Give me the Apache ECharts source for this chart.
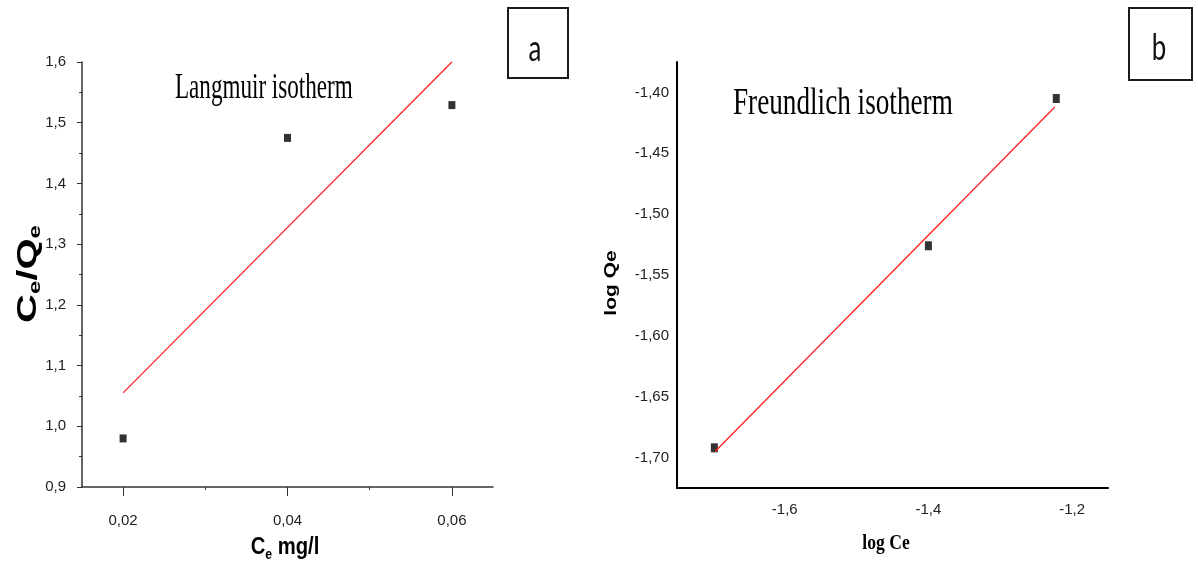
<!DOCTYPE html>
<html>
<head>
<meta charset="utf-8">
<script src="https://cdn.jsdelivr.net/npm/echarts@6/dist/echarts.min.js"></script>
<style>
  html, body { margin: 0; background: #fff; }
  #main { width: 1198px; height: 567px; }
</style>
</head>
<body>
<div id="main"></div>
<script>
// (a) Langmuir isotherm
const langCe = [0.02, 0.04, 0.06];
const langCeQe = [0.98, 1.475, 1.529];
const langFitCe = [0.02, 0.06];
const langFitCeQe = [1.055, 1.60];
const langMajorTicks = [0.02, 0.04, 0.06];
const langMinorTicks = [0.03, 0.05];

// (b) Freundlich isotherm
const frLogCe = [-1.698, -1.40, -1.222];
const frLogQe = [-1.692, -1.526, -1.405];
const frFitLogCe = [-1.697, -1.224];
const frFitLogQe = [-1.695, -1.412];
const frXTicks = [-1.6, -1.4, -1.2];
const frYTicks = [-1.70, -1.65, -1.60, -1.55, -1.50, -1.45, -1.40];

const sans = "'Liberation Sans', Arial, sans-serif";
const serif = "'Liberation Serif', 'Times New Roman', serif";
const comma = d => v => v.toFixed(d).replace('.', ',');
const pairs = (xs, ys) => xs.map((x, i) => [x, ys[i]]);

const labelStyle = { fontFamily: sans, fontSize: 15, color: '#222' };
const fitColor = '#ff1a1a';

let myChart = echarts.init(document.getElementById('main'));

myChart.setOption({
  animation: false,
  grid: [
    { left: 82, top: 62, width: 411, height: 425 },
    { left: 677, top: 62, width: 431, height: 426 }
  ],
  xAxis: [
    {
      gridIndex: 0, type: 'value', min: 0.015, max: 0.065,
      axisLine: { onZero: false, lineStyle: { color: '#333', width: 1.5 } },
      splitLine: { show: false },
      axisTick: { customValues: langMajorTicks, length: 9, lineStyle: { color: '#333' } },
      axisLabel: Object.assign({ customValues: langMajorTicks, formatter: comma(2), margin: 26 }, labelStyle)
    },
    {
      // short ticks in between
      gridIndex: 0, type: 'value', min: 0.015, max: 0.065, position: 'bottom',
      axisLine: { show: false, onZero: false },
      splitLine: { show: false },
      axisTick: { customValues: langMinorTicks, length: 3, lineStyle: { color: '#333' } },
      axisLabel: { show: false }
    },
    {
      gridIndex: 1, type: 'value', min: -1.75, max: -1.15,
      axisLine: { onZero: false, lineStyle: { color: '#000', width: 2 } },
      splitLine: { show: false },
      axisTick: { show: false },
      axisLabel: Object.assign({ customValues: frXTicks, formatter: comma(1), margin: 14 }, labelStyle)
    }
  ],
  yAxis: [
    {
      gridIndex: 0, type: 'value', min: 0.9, max: 1.6, interval: 0.1,
      axisLine: { show: true, onZero: false, lineStyle: { color: '#333', width: 1.5 } },
      splitLine: { show: false },
      axisTick: { show: true, length: 5, lineStyle: { color: '#333' } },
      minorTick: { show: true, splitNumber: 2, length: 3, lineStyle: { color: '#333' } },
      axisLabel: Object.assign({ formatter: comma(1), margin: 16 }, labelStyle)
    },
    {
      gridIndex: 1, type: 'value', min: -1.725, max: -1.375,
      axisLine: { show: true, onZero: false, lineStyle: { color: '#000', width: 2 } },
      splitLine: { show: false },
      axisTick: { show: false },
      axisLabel: Object.assign({ customValues: frYTicks, formatter: comma(2), margin: 8 }, labelStyle)
    }
  ],
  series: [
    {
      type: 'line', xAxisIndex: 0, yAxisIndex: 0, showSymbol: false,
      lineStyle: { color: fitColor, width: 1.2 },
      data: pairs(langFitCe, langFitCeQe)
    },
    {
      type: 'scatter', xAxisIndex: 0, yAxisIndex: 0,
      symbol: 'rect', symbolSize: [7, 8], itemStyle: { color: '#000' },
      data: pairs(langCe, langCeQe)
    },
    {
      type: 'line', xAxisIndex: 2, yAxisIndex: 1, showSymbol: false,
      lineStyle: { color: fitColor, width: 1.2 },
      data: pairs(frFitLogCe, frFitLogQe)
    },
    {
      type: 'scatter', xAxisIndex: 2, yAxisIndex: 1,
      symbol: 'rect', symbolSize: [7, 9], itemStyle: { color: '#000' },
      data: pairs(frLogCe, frLogQe)
    }
  ],
  graphic: [
    // panel letters
    { type: 'rect', shape: { x: 508, y: 8, width: 60, height: 70 },
      style: { fill: '#fff', stroke: '#1a1a1a', lineWidth: 2 } },
    { type: 'text', x: 535, y: 49, scaleX: 0.72,
      style: { text: 'a', fontFamily: 'Lato, sans-serif', fontSize: 36, fill: '#111', align: 'center', verticalAlign: 'middle' } },
    { type: 'rect', shape: { x: 1129, y: 8, width: 63, height: 72 },
      style: { fill: '#fff', stroke: '#1a1a1a', lineWidth: 2 } },
    { type: 'text', x: 1159, y: 48, scaleX: 0.72,
      style: { text: 'b', fontFamily: 'Lato, sans-serif', fontSize: 36, fill: '#111', align: 'center', verticalAlign: 'middle' } },

    // titles
    { type: 'text', x: 175, y: 89, scaleX: 0.66,
      style: { text: 'Langmuir isotherm', fontFamily: serif, fontSize: 35, fill: '#000', align: 'left', verticalAlign: 'middle' } },
    { type: 'text', x: 733, y: 104, scaleX: 0.735,
      style: { text: 'Freundlich isotherm', fontFamily: serif, fontSize: 37, fill: '#000', align: 'left', verticalAlign: 'middle' } },

    // axis names
    { type: 'text', x: 28, y: 274, rotation: Math.PI / 2, scaleY: 0.7,
      style: {
        text: '{c|C}{s|e}{c|/Q}{s|e}', align: 'center', verticalAlign: 'middle',
        rich: {
          c: { fontFamily: sans, fontWeight: 'bold', fontSize: 40, fill: '#000', lineHeight: 46, verticalAlign: 'middle' },
          s: { fontFamily: sans, fontWeight: 'bold', fontSize: 24, fill: '#000', verticalAlign: 'bottom' }
        }
      } },
    { type: 'text', x: 285, y: 548, scaleX: 0.88,
      style: {
        text: '{c|C}{s|e}{c| mg/l}', align: 'center', verticalAlign: 'middle',
        rich: {
          c: { fontFamily: sans, fontWeight: 'bold', fontSize: 23, fill: '#000', lineHeight: 28, verticalAlign: 'middle' },
          s: { fontFamily: sans, fontWeight: 'bold', fontSize: 14, fill: '#000', verticalAlign: 'bottom' }
        }
      } },
    { type: 'text', x: 612, y: 283, rotation: Math.PI / 2, scaleY: 0.75,
      style: { text: 'log Qe', fontFamily: sans, fontWeight: 'bold', fontSize: 21, fill: '#000', align: 'center', verticalAlign: 'middle' } },
    { type: 'text', x: 886, y: 543, scaleX: 0.8,
      style: { text: 'log Ce', fontFamily: serif, fontWeight: 'bold', fontSize: 22, fill: '#000', align: 'center', verticalAlign: 'middle' } }
  ]
});
</script>
</body>
</html>
